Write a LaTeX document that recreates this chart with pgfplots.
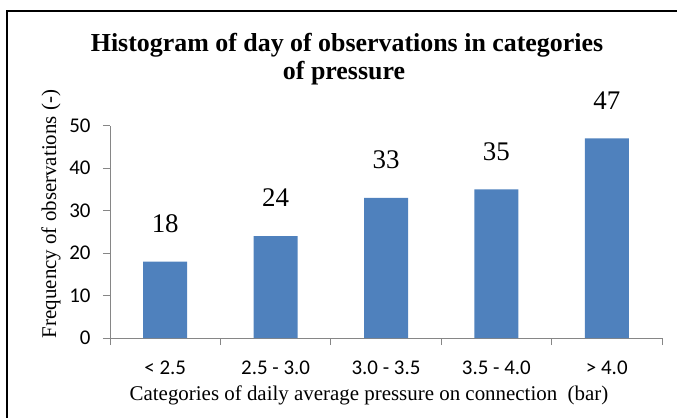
\documentclass[border=0pt]{standalone}
\usepackage{pgfplots}
\pgfplotsset{compat=1.18}
\usepackage{fontspec}
\setmainfont{Liberation Serif}
\newfontfamily\calibri{Carlito}
\definecolor{barblue}{HTML}{4F81BD}
\definecolor{axisgray}{HTML}{868686}
\begin{document}
\begin{tikzpicture}[x=1bp,y=1bp]
\useasboundingbox (0,0) rectangle (677,417);
\begin{scope}
\clip (0,0) rectangle (677,417);
\draw[line width=1.6bp] (7,-20) -- (7,406) -- (700,406);
\end{scope}
\begin{axis}[
  at={(110bp,79bp)}, anchor=south west,
  scale only axis,
  width=552bp, height=212.5bp,
  xmin=-0.5, xmax=4.5, ymin=0, ymax=50,
  axis x line=bottom, axis y line=left,
  axis line style={-, draw=axisgray, line width=0.9bp},
  xtick={0,1,2,3,4},
  xticklabels={{< 2.5},{2.5 - 3.0},{3.0 - 3.5},{3.5 - 4.0},{> 4.0}},
  ytick={0,10,20,30,40,50},
  minor xtick={-0.5,0.5,1.5,2.5,3.5,4.5},
  tick align=outside,
  major tick length=7bp, minor tick length=7bp,
  major x tick style={draw=none},
  major y tick style={draw=axisgray, line width=0.9bp},
  minor x tick style={draw=axisgray, line width=0.9bp},
  ticklabel style={font=\calibri\fontsize{21}{21}\selectfont},
  /pgf/number format/assume math mode=true,
  yticklabel style={xshift=-9bp},
  xticklabel style={yshift=-12bp},
  ybar, bar width=44bp,
  nodes near coords,
  every node near coord/.append style={font=\fontsize{27}{27}\selectfont, anchor=center, yshift=38bp},
  clip=false,
]
\addplot[fill=barblue, draw=none] coordinates {(0,18) (1,24) (2,33) (3,35) (4,47)};
\end{axis}
\node[font=\bfseries\fontsize{26}{26}\selectfont] at (347,372) {Histogram of day of observations in categories};
\node[font=\bfseries\fontsize{26}{26}\selectfont] at (344,344) {of pressure};
\node[rotate=90, font=\fontsize{21}{21}\selectfont] at (51,203) {Frequency of observations (-)};
\node[font=\fontsize{21}{21}\selectfont] at (369,22) {Categories of daily average pressure on connection\ \ (bar)};
\end{tikzpicture}
\end{document}
